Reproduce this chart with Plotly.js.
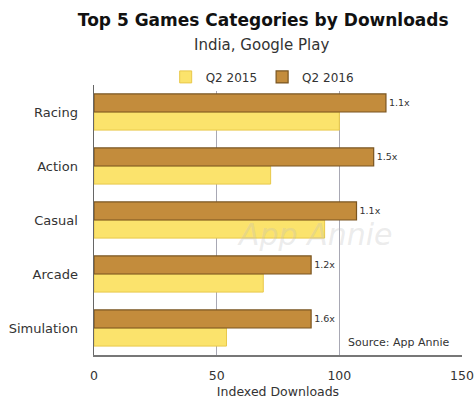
<!DOCTYPE html>
<html>
<head>
<meta charset="utf-8">
<script src="https://cdn.plot.ly/plotly-3.0.1.min.js"></script>
<style>html,body{margin:0;padding:0;background:#fff;}#chart{width:476px;height:400px;}</style>
</head>
<body>
<div id="chart"></div>
<script>
var categories = ["Racing", "Action", "Casual", "Arcade", "Simulation"];
var q2_2015 = [100, 72, 94, 69, 54];
var q2_2016 = [119, 114, 107, 88.5, 88.5];
var growthLabels = ["1.1x", "1.5x", "1.1x", "1.2x", "1.6x"];
var xTicks = [0, 50, 100, 150];

var font = "'DejaVu Sans', Verdana, sans-serif";

var traces = [
  {
    type: "bar", orientation: "h", name: "Q2 2015",
    y: categories, x: q2_2015,
    marker: {color: "#FBE36C", line: {color: "#E8C84A", width: 1}},
    hoverinfo: "x+name"
  },
  {
    type: "bar", orientation: "h", name: "Q2 2016",
    y: categories, x: q2_2016,
    text: growthLabels, textposition: "outside", cliponaxis: false,
    textfont: {family: font, size: 9.5, color: "#333"},
    marker: {color: "#C38C3C", line: {color: "#7A5520", width: 1.2}},
    hoverinfo: "x+name"
  }
];

var layout = {
  width: 476, height: 400,
  margin: {l: 94, r: 14, t: 85, b: 45},
  paper_bgcolor: "#fff", plot_bgcolor: "#fff",
  barmode: "group", bargap: 0.33, bargroupgap: 0,
  font: {family: font, color: "#333", size: 12},
  title: {
    text: "<b>Top 5 Games Categories by Downloads</b>",
    xref: "container", yref: "container",
    x: 0.553, xanchor: "center", y: 0.95, yanchor: "middle",
    font: {family: font, size: 17, color: "#111"}
  },
  showlegend: true,
  legend: {
    orientation: "h", x: 0.457, xanchor: "center", y: 1.03, yanchor: "middle",
    traceorder: "normal", font: {size: 12, color: "#333"}, itemwidth: 30
  },
  xaxis: {
    range: [0, 150], tickvals: xTicks, ticktext: xTicks.map(String),
    showgrid: true, gridcolor: "#A8A8B4", gridwidth: 1,
    zeroline: false, showline: true, linecolor: "#777", linewidth: 1.5,
    ticks: "", ticklabelstandoff: 8, tickfont: {size: 12.5, color: "#333"},
    title: {text: "Indexed Downloads", font: {size: 12.5, color: "#333"}, standoff: 5},
    fixedrange: true
  },
  yaxis: {
    type: "category", categoryorder: "array",
    categoryarray: categories.slice().reverse(),
    showline: true, linecolor: "#666", linewidth: 1.5,
    ticks: "", ticklabelstandoff: 12, tickfont: {size: 13, color: "#333"},
    showgrid: false, fixedrange: true
  },
  annotations: [
    {xref: "paper", yref: "paper", x: 0.454, y: 1.148, xanchor: "center", yanchor: "middle",
     text: "India, Google Play", showarrow: false, font: {size: 15, color: "#333"}},
    {xref: "x", yref: "paper", x: 145.5, y: 0.045, xanchor: "right", yanchor: "middle",
     text: "Source: App Annie", showarrow: false, font: {size: 11, color: "#333"}},
    {xref: "paper", yref: "paper", x: 0.6, y: 0.445, xanchor: "center", yanchor: "middle",
     text: "<i>App Annie</i>", showarrow: false, font: {size: 30, color: "rgba(190,190,190,0.3)"}}
  ]
};

Plotly.newPlot("chart", traces, layout, {displayModeBar: false, staticPlot: true});
</script>
</body>
</html>
